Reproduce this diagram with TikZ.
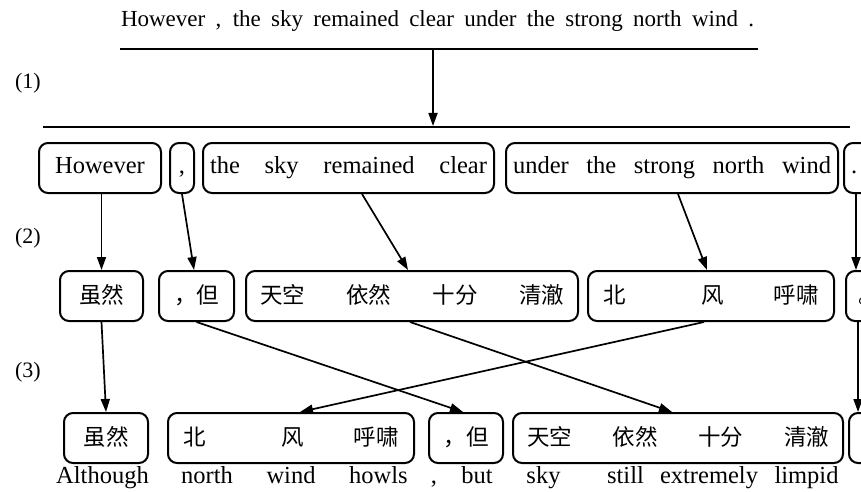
\documentclass[tikz,border=0pt]{standalone}
\usepackage{fontspec}
\setmainfont{Liberation Serif}
\newfontfamily\cjk{Noto Sans CJK SC}
\usetikzlibrary{arrows.meta,calc}
\newcommand\enf{\fontsize{24.5}{28}\selectfont}
\newcommand\zhf{\cjk\fontsize{22.5}{26}\selectfont}
\begin{document}
\begin{tikzpicture}[x=1pt,y=-1pt,
  bx/.style={draw, line width=2pt, rounded corners=9pt, minimum height=50pt,
             inner xsep=7pt, inner ysep=0pt, anchor=west},
  en/.style={font=\enf, text height=17pt, text depth=6pt},
  zh/.style={font=\zhf, text height=19pt, text depth=4pt},
  bw/.style={font=\enf, anchor=base},
  lab/.style={font=\fontsize{22}{24}\selectfont},
  arr/.style={line width=1.7pt, -{Triangle[length=13pt,width=9pt]}},
  rule/.style={line width=2pt}]
\useasboundingbox (0,0) rectangle (861,492);
\clip (0,0) rectangle (861,492);
\fill[white] (0,0) rectangle (861,492);

% top sentence and rules
\node[anchor=base, inner sep=0pt] (top) at (437.5,27)
  {\fontsize{23}{26}\selectfont\makebox[633pt][s]{However , the sky remained clear under the strong north wind .}};
\coordinate (l1w) at (120,49); \coordinate (l1e) at (758,49);
\coordinate (l2w) at (43,127); \coordinate (l2e) at (850,127);
\draw[rule] (l1w) -- (l1e);
\draw[rule] (l2w) -- (l2e);
\coordinate (a1) at (433,49); \coordinate (a2) at (433,126);
\draw[arr] (a1) -- (a2);

% step labels
\node[lab] (lab1) at (28,83) {(1)};
\node[lab] (lab2) at (28,238) {(2)};
\node[lab] (lab3) at (28,372) {(3)};

% row 1
\node[bx,en,minimum width=122pt] (r1a) at (38,168) {However};
\node[bx,en,minimum width=24pt,inner xsep=2pt] (r1b) at (169,168) {,};
\node[bx,en,text width=277pt] (r1c) at (202,168) {the\hfill sky\hfill remained\hfill clear};
\node[bx,en,text width=318pt] (r1d) at (505,168) {under\hfill the\hfill strong\hfill north\hfill wind};
\node[bx,en,text width=40pt] (r1e) at (843,168) {.};

% row 2
\node[bx,zh,minimum width=83pt] (r2a) at (59,296) {虽然};
\node[bx,zh,minimum width=75pt] (r2b) at (158,296) {，但};
\node[bx,zh,text width=304pt,inner xsep=14pt] (r2c) at (245,296) {天空\hfill 依然\hfill 十分\hfill 清澈};
\node[bx,zh,text width=216pt,inner xsep=15pt] (r2d) at (587,296) {北\hspace{\stretch{1.5}}风\hspace{\stretch{1}}呼啸};
\node[bx,zh,text width=30pt] (r2e) at (845,296) {\hspace{5pt}。};

% row 3
\node[bx,zh,minimum width=84pt] (r3a) at (63,438) {虽然};
\node[bx,zh,text width=216pt,inner xsep=15pt] (r3b) at (167,438) {北\hspace{\stretch{1.5}}风\hspace{\stretch{1}}呼啸};
\node[bx,zh,minimum width=74pt] (r3c) at (428,438) {，但};
\node[bx,zh,text width=302pt,inner xsep=14pt] (r3d) at (512,438) {天空\hfill 依然\hfill 十分\hfill 清澈};
\node[bx,zh,text width=30pt] (r3e) at (848,438) {\hspace{5pt}。};

% gloss
\node[bw] (g1) at (102.5,483) {Although};
\node[bw] (g2) at (207,483) {north};
\node[bw] (g3) at (291,483) {wind};
\node[bw] (g4) at (378.5,483) {howls};
\node[bw] (g5) at (434,483) {,};
\node[bw] (g6) at (477,483) {but};
\node[bw] (g7) at (543.5,483) {sky};
\node[bw] (g8) at (625.5,483) {still};
\node[bw] (g9) at (709,483) {extremely};
\node[bw] (g10) at (806.5,483) {limpid};

% arrows row 1 -> row 2
\draw[arr] (r1a.south -| r2a.north) -- (r2a.north);
\draw[arr] (r1b.south) -- ([xshift=-2.5pt]r2b.north);
\draw[arr] ([xshift=160pt]r1c.south west) -- ([xshift=163pt]r2c.north west);
\draw[arr] ([xshift=173pt]r1d.south west) -- ([xshift=120pt]r2d.north west);
\draw[arr] ([xshift=13pt]r1e.south west) -- ([xshift=13pt]r1e.south west |- r2e.north);

% arrows row 2 -> row 3
\draw[arr] (r2a.south) -- (r3a.north);
\draw[arr] (r2b.south) -- ([xshift=-3pt]r3c.north);
\draw[arr] ([xshift=165pt]r2c.south west) -- ([xshift=160pt]r3d.north west);
\draw[arr] ([xshift=117pt]r2d.south west) -- ([xshift=133pt]r3b.north west);
\draw[arr] ([xshift=13pt]r2e.south west) -- ([xshift=13pt]r2e.south west |- r3e.north);
\end{tikzpicture}
\end{document}
